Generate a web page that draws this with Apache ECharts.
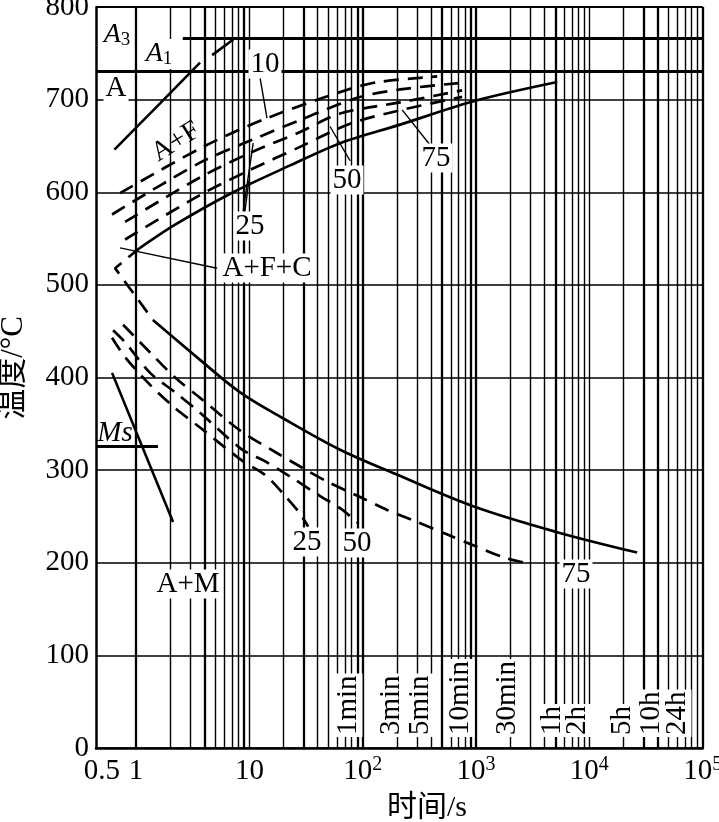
<!DOCTYPE html>
<html><head><meta charset="utf-8">
<script src="https://cdn.jsdelivr.net/npm/echarts@6/dist/echarts.min.js"></script>
<style>html,body{margin:0;padding:0;background:#fff}#c{width:719px;height:822px}</style>
</head><body><div id="c"></div>
<script>
// ---------- data ----------
const yTicks = [0,100,200,300,400,500,600,700,800];
const xTickLabels = [0.5,1,10,100,1000,10000,100000];
const gridTimes = [];
[1,10,100,1000,10000].forEach(d => { for (let k=1;k<=9;k++) gridTimes.push(k*d); });
gridTimes.push(100000);
const thickTimes = [1,4,9,30,90,100,500,900,1000,5000,30000,40000,100000];
const tempA3 = 731;
const tempA1 = 766, tA1Start = 2.58;
const tempMs = 326, tMsEnd = 1.56;
const xMin = 0.443, xMax = 100000;

const a1Diag1 = [[0.644,646],[1.63,696],[3.67,740]];
const a1Diag2 = [[4.69,748],[7.21,765]];
const upperSolid = [[1.085,540],[2.21,565],[7.18,600],[22.9,629],[63.1,653],[214,673],[1000,699],[5200,719]];
const noseDashed = [[1.085,540],[0.653,518],[1.41,462]];
const lowerSolid = [[1.41,462],[3.67,419],[8.28,384],[19.8,356],[63.1,322],[193,296],[942,261],[5200,233],[26400,211]];
const up10 = [[0.722,599],[3.9,649],[14.3,680],[74.3,711],[137,719],[454,725]];
const up25 = [[0.614,576],[3.67,632],[10.8,657],[28,678],[89.3,702],[214,711],[724,718]];
const up50 = [[0.80,568],[3.67,616],[10.8,644],[28,665],[63.1,685],[214,697],[754,710]];
const up75 = [[0.80,549],[3.67,597],[10.1,624],[28,649],[77.4,674],[223,689],[754,703]];
const low75 = [[0.768,457],[1.33,427],[2.21,400],[3.67,378],[8.45,342],[17.2,319],[29.8,302],[51.5,286],[94.9,271],[164,257],[302,244],[545,231],[982,218],[1845,205],[2711,200]];
const low50 = [[0.627,451],[0.80,438],[1.33,405],[2.21,384],[3.67,362],[8.45,323],[14,309],[22.9,293],[42.1,272],[63.1,259],[91,243]];
const low25 = [[0.614,443],[0.80,422],[1.33,392],[2.21,367],[3.67,346],[8.45,311],[14,294],[20.7,272],[28,253],[33,239]];
const martensite = [[0.614,405],[2.12,244]];
const leaders = [
  [[12.4,724],[14.3,680]],
  [[8.8,579],[10.8,653]],
  [[9.13,579],[9.9,613]],
  [[77.4,634],[51.5,671]],
  [[393,651],[223,689]],
  [[0.722,540],[5.19,518]]
];
const timeLabels = ['1min','3min','5min','10min','30min','1h','2h','5h','10h','24h'];

// ---------- styling / layout ----------
const FF = "'Liberation Serif','Noto Sans CJK SC',serif";
const FS = 29;
const timeLabelX = [348,391,420,460,507,552,577,622,651,677];

function curve(data, dashed, width, smooth) {
  return {
    type:'line', data, symbol:'none', silent:true, animation:false,
    smooth: smooth === undefined ? 0.3 : smooth,
    lineStyle:{color:'#000', width: width || 2.7, type: dashed ? [15,9] : 'solid', cap:'butt'},
    z: 5
  };
}

const series = [
  {
    type:'line', data:[], silent:true, animation:false, z:2,
    markLine:{
      silent:true, symbol:'none', animation:false, label:{show:false},
      data: gridTimes.map(v => ({xAxis:v, lineStyle:{color:'#000', type:'solid', width: thickTimes.includes(v) ? 2.3 : 1.4}}))
        .concat([
          {yAxis: 800, lineStyle:{color:'#000', type:'solid', width:2.2}},
          {yAxis: tempA3, lineStyle:{color:'#000', type:'solid', width:3.2}},
          [{coord:[tA1Start,tempA1], lineStyle:{color:'#000', type:'solid', width:3.2}},{coord:[xMax,tempA1]}],
          [{coord:[xMin,tempMs], lineStyle:{color:'#000', type:'solid', width:2.8}},{coord:[tMsEnd,tempMs]}]
        ])
    }
  },
  curve(a1Diag1, false, 2.6, 0.2),
  curve(a1Diag2, false, 2.6, 0),
  curve(upperSolid, false),
  curve(noseDashed, true, 2.7, 0),
  curve(lowerSolid, false, 2.7, 0.35),
  curve(up10, true), curve(up25, true), curve(up50, true), curve(up75, true),
  curve(low75, true), curve(low50, true), curve(low25, true),
  curve(martensite, false, 2.6, 0)
].concat(leaders.map(l => curve(l, false, 1.4, 0)));

const chart = echarts.init(document.getElementById('c'), null, {renderer:'canvas'});
chart.setOption({
  backgroundColor:'#fff',
  animation:false,
  grid:{left:96, right:16.3, top:7, bottom:74, outerBoundsMode:'none', containLabel:false},
  xAxis:{
    type:'log', logBase:10, min:xMin, max:xMax,
    axisLine:{lineStyle:{color:'#000', width:2.5}},
    axisTick:{show:false}, splitLine:{show:false}, minorTick:{show:false},
    axisLabel:{
      customValues: xTickLabels, margin:7, color:'#000', fontFamily:FF, fontSize:FS,
      formatter: v => {
        if (Math.abs(v-0.5) < 1e-6) return '{b|0.5}';
        if (Math.abs(v-1) < 1e-6) return '{b|1}';
        if (Math.abs(v-10) < 1e-6) return '{b|10}';
        const n = Math.round(Math.log10(v));
        if (Math.abs(Math.pow(10,n)-v) > 1e-6*v) return '';
        return '{b|10}{s|' + n + '}';
      },
      rich:{
        b:{fontSize:FS, fontFamily:FF, color:'#000', lineHeight:32},
        s:{fontSize:20, fontFamily:FF, color:'#000', verticalAlign:'top', lineHeight:32}
      }
    }
  },
  yAxis:{
    type:'value', min:0, max:800, interval:100,
    axisLine:{show:true, lineStyle:{color:'#000', width:2.5}},
    axisTick:{show:false},
    axisLabel:{margin:7, color:'#000', fontFamily:FF, fontSize:FS},
    splitLine:{show:true, lineStyle:{color:'#000', width:1.6}}
  },
  series,
  graphic: buildGraphics()
});

function buildGraphics() {
  const g = [];
  const t = (text, x, y, extra) => {
    const st = Object.assign({text, fill:'#000', fontFamily:FF, fontSize:FS, align:'center', verticalAlign:'middle',
      backgroundColor:'#fff', padding:[0,2]}, extra || {});
    return {type:'text', x, y, z:100, style:st};
  };
  const sub = (main, s, x, y) => ({type:'text', x, y, z:100, style:{text:'{a|'+main+'}{b|'+s+'}', align:'center', verticalAlign:'middle', backgroundColor:'#fff',
    rich:{a:{fontFamily:FF, fontSize:28, fontStyle:'italic', fill:'#000', lineHeight:30}, b:{fontFamily:FF, fontSize:19, fill:'#000', verticalAlign:'bottom', lineHeight:30}}}});
  g.push(sub('A','3',117,35));
  g.push(sub('A','1',159,54));
  g.push(t('A', 116, 88));
  const af = t('A+F', 176, 142, {fontSize:28});
  af.rotation = 32*Math.PI/180; af.style.backgroundColor = 'transparent';
  g.push(af);
  g.push(t('10', 265, 64));
  g.push(t('25', 250, 226));
  g.push(t('50', 347, 180));
  g.push(t('75', 436, 158));
  g.push(t('A+F+C', 267, 268));
  g.push(t('25', 307, 542));
  g.push(t('50', 357, 543));
  g.push(t('75', 576, 574));
  g.push(t('Ms', 115, 433, {fontStyle:'italic', backgroundColor:'transparent'}));
  g.push(t('A+M', 188, 584));
  timeLabels.forEach((s, i) => {
    g.push({type:'text', x:timeLabelX[i], y:737, rotation:Math.PI/2, z:100,
      style:{text:s, fill:'#000', fontFamily:FF, fontSize:FS, align:'left', verticalAlign:'middle', backgroundColor:'#fff', padding:[0,2]}});
  });
  g.push({type:'text', x:14, y:368, rotation:Math.PI/2, z:100,
    style:{text:'温度/°C', fill:'#000', fontFamily:FF, fontSize:31, align:'center', verticalAlign:'middle'}});
  g.push({type:'text', x:427, y:808, z:100,
    style:{text:'时间/s', fill:'#000', fontFamily:FF, fontSize:30, align:'center', verticalAlign:'middle'}});
  return g;
}
</script>
</body></html>
